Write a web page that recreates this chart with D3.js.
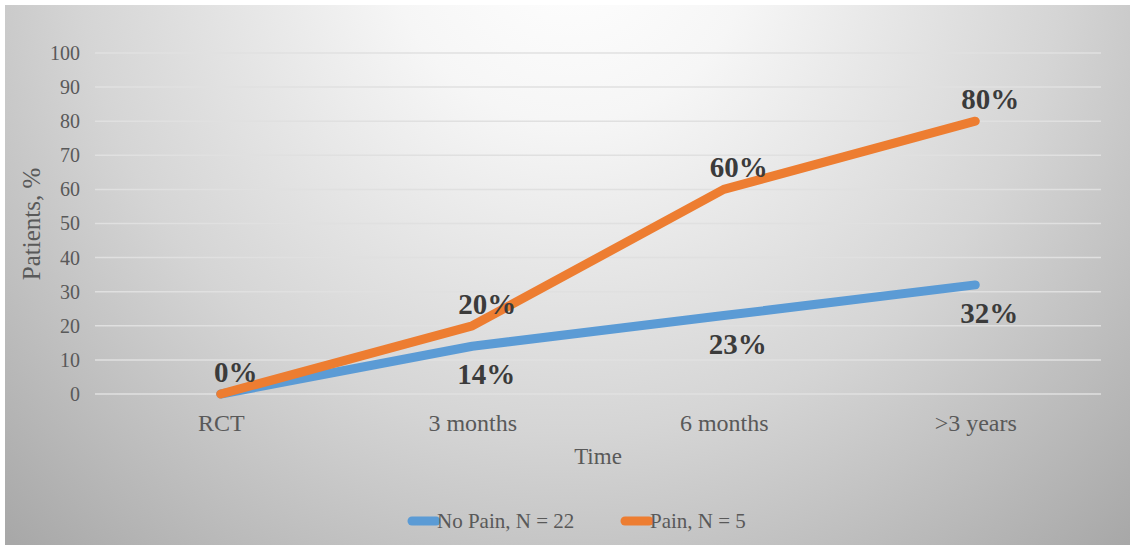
<!DOCTYPE html>
<html><head><meta charset="utf-8">
<script src="https://cdn.jsdelivr.net/npm/d3@7"></script>
<style>html,body{margin:0;padding:0;background:#fff;}svg{display:block;}</style>
</head><body>
<svg id="chart" width="1135" height="548"></svg>
<script>
const categories = ["RCT", "3 months", "6 months", ">3 years"];
const noPain = [0, 14, 23, 32];
const pain = [0, 20, 60, 80];
const yTicks = [0, 10, 20, 30, 40, 50, 60, 70, 80, 90, 100];
const seriesNames = ["No Pain, N = 22", "Pain, N = 5"];
const seriesColors = ["#5b9bd5", "#ed7d31"];

const svg = d3.select("#chart");
const font = "'Liberation Serif','Times New Roman',serif";

const defs = svg.append("defs");
const grad = defs.append("radialGradient").attr("id", "bg")
  .attr("gradientUnits", "userSpaceOnUse")
  .attr("cx", 570).attr("cy", -60).attr("r", 820)
  .attr("fx", 570).attr("fy", -60);
grad.append("stop").attr("offset", 0).attr("stop-color", "#ffffff");
grad.append("stop").attr("offset", 0.22).attr("stop-color", "#f6f6f6");
grad.append("stop").attr("offset", 0.6).attr("stop-color", "#d5d5d5");
grad.append("stop").attr("offset", 1).attr("stop-color", "#a8a8a8");

svg.append("rect").attr("x", 5).attr("y", 5).attr("width", 1125).attr("height", 540)
  .attr("fill", "url(#bg)");

const x = d3.scalePoint().domain(categories).range([95, 1101]).padding(0.5);
const y = d3.scaleLinear().domain([0, 100]).range([394, 53]);

// gridlines
svg.append("g").selectAll("line").data(yTicks).join("line")
  .attr("x1", 95).attr("x2", 1101)
  .attr("y1", d => y(d)).attr("y2", d => y(d))
  .attr("stroke", "#e0e0e0").attr("stroke-width", 1.5);

// y axis
const yAxis = svg.append("g").attr("transform", "translate(80,0)")
  .call(d3.axisLeft(y).tickValues(yTicks).tickSize(0).tickPadding(0));
yAxis.select(".domain").remove();
yAxis.selectAll("text").attr("font-family", font).attr("font-size", 20)
  .attr("fill", "#595959");

// x axis
const xAxis = svg.append("g").attr("transform", "translate(0,394)")
  .call(d3.axisBottom(x).tickSize(0).tickPadding(20));
xAxis.select(".domain").remove();
xAxis.selectAll("text").attr("font-family", font).attr("font-size", 24)
  .attr("fill", "#595959");

// axis titles
svg.append("text").attr("x", 598).attr("y", 464).attr("text-anchor", "middle")
  .attr("font-family", font).attr("font-size", 23).attr("fill", "#595959").text("Time");
svg.append("text").attr("transform", "translate(40,224) rotate(-90)")
  .attr("text-anchor", "middle")
  .attr("font-family", font).attr("font-size", 25).attr("fill", "#595959").text("Patients, %");

const line = d3.line().x((d, i) => x(categories[i])).y(d => y(d));
const series = [noPain, pain];
series.forEach((s, k) => {
  svg.append("path").datum(s).attr("d", line)
    .attr("fill", "none").attr("stroke", seriesColors[k]).attr("stroke-width", 9)
    .attr("stroke-linecap", "round").attr("stroke-linejoin", "round");
});

// data labels
svg.append("g").selectAll("text").data(pain).join("text")
  .attr("x", (d, i) => x(categories[i]) + 15).attr("y", d => y(d) - 12)
  .attr("text-anchor", "middle").attr("font-family", font).attr("font-weight", "bold")
  .attr("font-size", 29).attr("fill", "#3b3b3b").text(d => d + "%");
svg.append("g").selectAll("text").data(noPain.slice(1)).join("text")
  .attr("x", (d, i) => x(categories[i + 1]) + 14).attr("y", d => y(d) + 38)
  .attr("text-anchor", "middle").attr("font-family", font).attr("font-weight", "bold")
  .attr("font-size", 29).attr("fill", "#3b3b3b").text(d => d + "%");

// legend
const legendX = [412, 625];
seriesNames.forEach((n, k) => {
  svg.append("line").attr("x1", legendX[k]).attr("x2", legendX[k] + 24)
    .attr("y1", 521).attr("y2", 521).attr("stroke", seriesColors[k])
    .attr("stroke-width", 9).attr("stroke-linecap", "round");
  svg.append("text").attr("x", legendX[k] + 25).attr("y", 528)
    .attr("font-family", font).attr("font-size", 21).attr("fill", "#595959").text(n);
});
</script>
</body></html>
